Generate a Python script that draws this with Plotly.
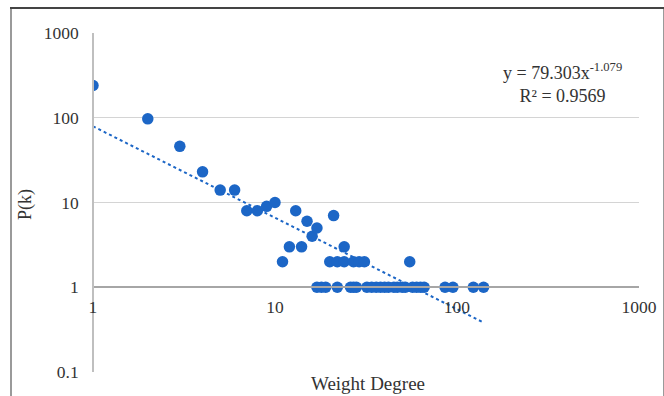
import plotly.graph_objects as go

# Degree distribution data
degree = [1, 2, 3, 4, 5, 6, 7, 8, 9, 10, 11, 12, 13, 14, 15, 16, 17, 21, 24,
          20, 22, 24, 27, 29, 31, 55,
          17, 18, 19, 22, 26, 27, 28, 32, 34, 36, 38, 40, 42, 45, 47, 50, 52,
          57, 60, 63, 66, 86, 95, 123, 140]
pk = [240, 97, 46, 23, 14, 14, 8, 8, 9, 10, 2, 3, 8, 3, 6, 4, 5, 7, 3,
      2, 2, 2, 2, 2, 2, 2,
      1, 1, 1, 1, 1, 1, 1, 1, 1, 1, 1, 1, 1, 1, 1, 1, 1,
      1, 1, 1, 1, 1, 1, 1, 1]

# Power-law trendline y = a * x^b
fit_a = 79.303
fit_b = -1.079
fit_x = [1, 140]
fit_y = [fit_a * x ** fit_b for x in fit_x]

x_ticks = [1, 10, 100, 1000]
x_ticktext = ["1", "10", "100", "1000"]
y_ticks = [0.1, 1, 10, 100, 1000]
y_ticktext = ["0.1", "1", "10", "100", "1000"]

serif = "Liberation Serif, Times New Roman, serif"
blue = "#1c66c6"
txt = "#333333"

fig = go.Figure()
fig.add_trace(go.Scatter(
    x=fit_x, y=fit_y, mode="lines",
    line=dict(color=blue, width=2, dash="dot"),
    showlegend=False, hoverinfo="skip",
))
fig.add_trace(go.Scatter(
    x=degree, y=pk, mode="markers",
    marker=dict(color=blue, size=11.5, line=dict(width=0)),
    showlegend=False,
))
# empty trace that only carries the chart-area frame axes
fig.add_trace(go.Scatter(x=[], y=[], xaxis="x2", yaxis="y2",
                         showlegend=False, hoverinfo="skip"))

fig.update_layout(
    width=664, height=396,
    margin=dict(l=12, r=1, t=9, b=0, autoexpand=False),
    paper_bgcolor="white", plot_bgcolor="rgba(0,0,0,0)",
    font=dict(family=serif, size=17, color=txt),
    xaxis=dict(
        type="log", range=[0, 3], domain=[0.1244, 0.9631],
        tickvals=x_ticks, ticktext=x_ticktext,
        showgrid=False, zeroline=False, automargin=False,
        showline=True, linecolor="#a6a6a6", linewidth=1.5,
        anchor="free", position=0.2817,
        ticks="", ticklabelstandoff=4,
        tickfont=dict(family=serif, size=17.5, color=txt),
    ),
    yaxis=dict(
        type="log", range=[-1, 3], domain=[0.0620, 0.938],
        anchor="free", position=0.1244, automargin=False,
        tickvals=y_ticks, ticktext=y_ticktext,
        showgrid=True, gridcolor="#d4d4d4", gridwidth=1,
        zeroline=False,
        showline=True, linecolor="#bfbfbf", linewidth=1.5,
        ticks="", ticklabelstandoff=10,
        tickfont=dict(family=serif, size=17.5, color=txt),
    ),
    xaxis2=dict(
        domain=[0, 1], range=[0, 1], anchor="y2", side="top",
        showline=True, linecolor="#444444", linewidth=1.5, automargin=False,
        showgrid=False, zeroline=False, showticklabels=False, ticks="",
        fixedrange=True,
    ),
    yaxis2=dict(
        domain=[0, 1], range=[0, 1], anchor="x2", automargin=False,
        showline=True, linecolor="#9a9a9a", linewidth=1.5, mirror=True,
        showgrid=False, zeroline=False, showticklabels=False, ticks="",
        fixedrange=True,
    ),
    annotations=[
        dict(text="y = 79.303x<sup>-1.079</sup><br>R² = 0.9569",
             xref="paper", yref="paper", x=0.846, y=0.810,
             xanchor="center", yanchor="middle", showarrow=False,
             align="center",
             font=dict(family=serif, size=18, color=txt)),
        dict(text="Weight Degree", xref="paper", yref="paper",
             x=0.5468, y=0.032, xanchor="center", yanchor="middle",
             showarrow=False, font=dict(family=serif, size=19, color=txt)),
        dict(text="P(k)", xref="paper", yref="paper",
             x=0.02, y=0.4935, xanchor="center", yanchor="middle",
             textangle=-90, showarrow=False,
             font=dict(family=serif, size=18, color=txt)),
    ],
)

fig.write_html("out.html")
